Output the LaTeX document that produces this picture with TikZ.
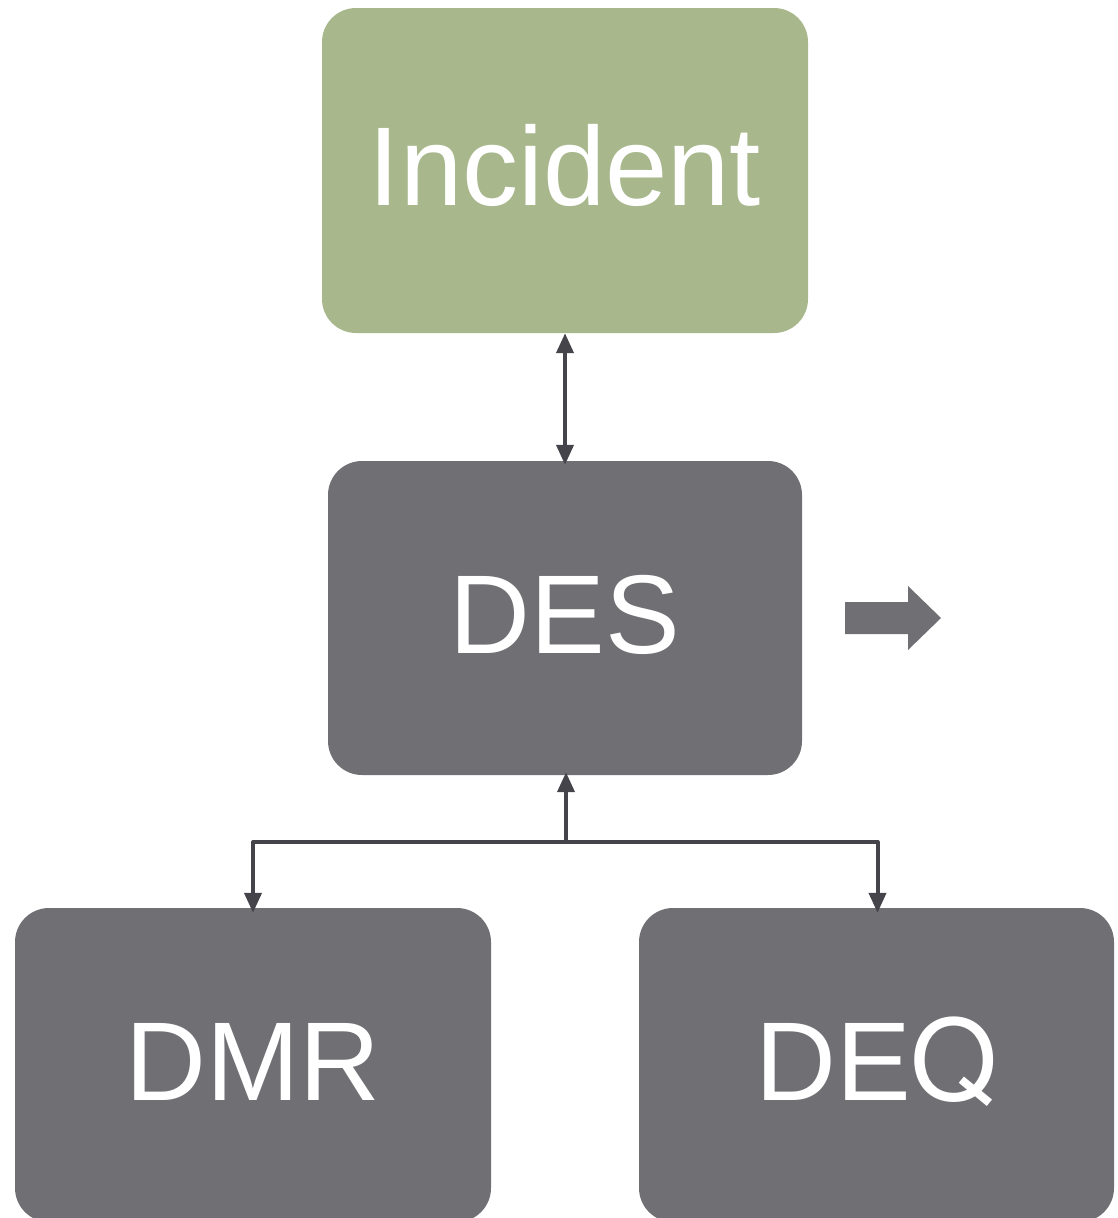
\documentclass[tikz,border=0pt]{standalone}
\usepackage{fontspec}
\setmainfont{Liberation Sans}
\newfontfamily\herosfont{TeX Gyre Heros}
\usetikzlibrary{arrows.meta}
\definecolor{incgreen}{HTML}{A8B88C}
\definecolor{boxgray}{HTML}{706F74}
\definecolor{linegray}{HTML}{45444A}
\begin{document}
\begin{tikzpicture}[x=1pt,y=-1pt,
  box/.style={rectangle, rounded corners=34pt, draw=none, text=white,
    font=\fontsize{112}{120}\selectfont, inner sep=0pt,
    text height=80pt, text depth=10pt},
  conn/.style={draw=linegray, line width=4pt,
    -{Triangle[length=20pt,width=17pt]}}]
\useasboundingbox (0,0) rectangle (1117,1218);
\node[box, fill=incgreen, minimum width=486pt, minimum height=325pt] (inc) at (565,170.5) {Incident};
\node[box, fill=boxgray, minimum width=474pt, minimum height=314pt] (des) at (565,618) {DES};
\node[box, fill=boxgray, minimum width=476pt, minimum height=314pt] (dmr) at (253,1065) {DMR};
\node[box, fill=boxgray, minimum width=475pt, minimum height=314pt] (deq) at (876.5,1065) {DE{\herosfont Q}};
\coordinate (j) at (566,842);
\draw[conn, {Triangle[length=20pt,width=17pt]}-{Triangle[length=20pt,width=17pt]}] (inc.south) -- ([yshift=-4pt]des.north);
\draw[conn] (j) -- ([yshift=3pt,xshift=1pt]des.south);
\draw[conn, line join=round] (j) -| ([yshift=-5pt]dmr.north);
\draw[conn, line join=round] (j) -| ([yshift=-5pt,xshift=1pt]deq.north);
\coordinate (out) at (845,618);
\fill[boxgray] (out) ++(0,-16) -- ++(63,0) -- ++(0,-16) -- ++(33,32) -- ++(-33,32) -- ++(0,-16) -- ++(-63,0) -- cycle;
\end{tikzpicture}
\end{document}
